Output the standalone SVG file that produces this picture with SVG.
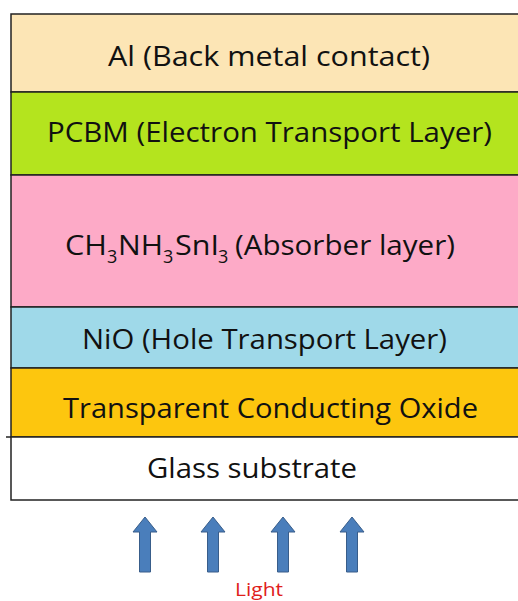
<svg xmlns="http://www.w3.org/2000/svg" width="518" height="601" viewBox="0 0 518 601">
<defs>
<style>
.layer{stroke:#222;stroke-width:1.5}
.lbl{font-family:"Open Sans",Lato,"Liberation Sans",sans-serif;font-size:28px;fill:#111}
.sub{font-size:18px}
.arrow{fill:#4a7ebb;stroke:#385d8a;stroke-width:1}
.light{font-family:"Open Sans",Lato,"Liberation Sans",sans-serif;font-size:19px;fill:#e0201b}
</style>
<path id="arr" class="arrow" d="M-5.5,572 L-5.5,532 L-12,532 L0,517 L12,532 L5.5,532 L5.5,572 Z"/>
</defs>
<rect width="518" height="601" fill="#fff"/>
<g id="al"><rect class="layer" x="11" y="14" width="520" height="78" fill="#fce5b5"/><text class="lbl" x="108" y="66" textLength="322" lengthAdjust="spacingAndGlyphs">Al (Back metal contact)</text></g>
<g id="pcbm"><rect class="layer" x="11" y="92" width="520" height="83" fill="#b4e41e"/><text class="lbl" x="47" y="142" textLength="445" lengthAdjust="spacingAndGlyphs">PCBM (Electron Transport Layer)</text></g>
<g id="absorber"><rect class="layer" x="11" y="175" width="520" height="132" fill="#fdaac7"/><text class="lbl" y="255" font-size="30"><tspan x="65" textLength="42" lengthAdjust="spacingAndGlyphs">CH</tspan><tspan class="sub" x="107" y="263">3</tspan><tspan x="118" y="255" textLength="45" lengthAdjust="spacingAndGlyphs">NH</tspan><tspan class="sub" x="163" y="263">3</tspan><tspan x="175" y="255" textLength="44" lengthAdjust="spacingAndGlyphs">SnI</tspan><tspan class="sub" x="218" y="263">3</tspan><tspan x="235" y="255" textLength="220" lengthAdjust="spacingAndGlyphs">(Absorber layer)</tspan></text></g>
<g id="nio"><rect class="layer" x="11" y="307" width="520" height="61" fill="#9fd9e9"/><text class="lbl" x="82" y="349" textLength="365" lengthAdjust="spacingAndGlyphs">NiO (Hole Transport Layer)</text></g>
<g id="tco"><rect class="layer" x="11" y="368" width="520" height="69" fill="#fdc60e"/><text class="lbl" x="63" y="418" textLength="415" lengthAdjust="spacingAndGlyphs">Transparent Conducting Oxide</text></g>
<g id="glass"><rect class="layer" x="11" y="437" width="520" height="63" fill="#fff"/><line x1="6" y1="437" x2="11" y2="437" stroke="#222" stroke-width="1.5"/><text class="lbl" x="147" y="478" textLength="210" lengthAdjust="spacingAndGlyphs">Glass substrate</text></g>
<g id="connectors">
<use href="#arr" x="145"/>
<use href="#arr" x="213"/>
<use href="#arr" x="283"/>
<use href="#arr" x="352"/>
</g>
<g id="light"><text class="light" x="235" y="596" textLength="48" lengthAdjust="spacingAndGlyphs">Light</text></g>
</svg>
